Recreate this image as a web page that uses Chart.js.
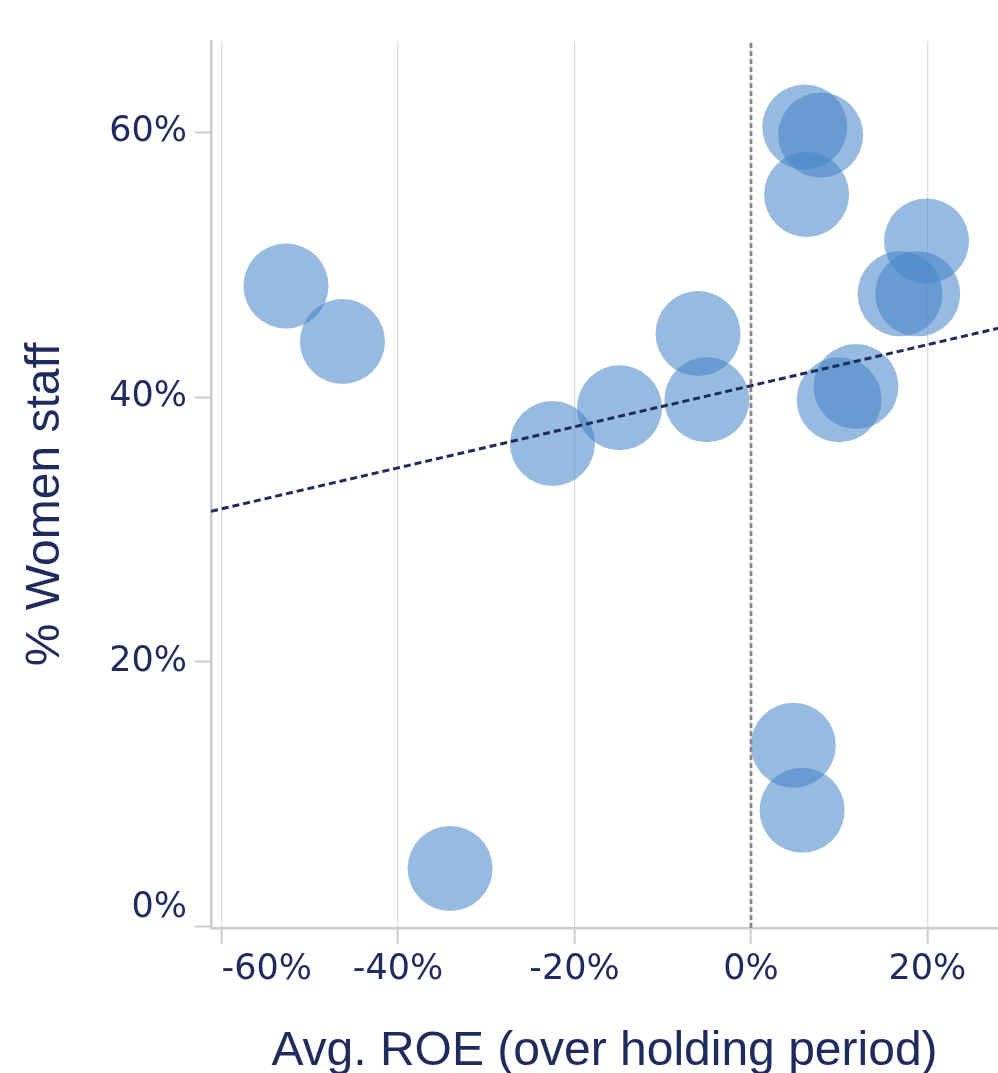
<!DOCTYPE html>
<html>
<head>
<meta charset="utf-8">
<script src="https://cdn.jsdelivr.net/npm/chart.js@4.4.1/dist/chart.umd.min.js"></script>
<style>
    html, body { margin: 0; padding: 0; background: #fff; overflow: hidden; }
    #wrap { width: 998px; height: 1090px; position: relative; }
</style>
</head>
<body>
<div id="wrap"><canvas id="roe_chart"></canvas></div>
<script>
// values
const roe = [-52.7, -46.3, -34.1, -22.5, -14.9, -6.0, -5.0, 6.1, 7.9, 6.3, 19.9, 16.9, 18.9, 11.9, 10.0, 4.8, 5.8];
const womenStaff = [48.4, 44.2, 4.4, 36.5, 39.2, 44.8, 39.8, 60.4, 59.8, 55.3, 51.8, 47.8, 47.8, 40.8, 39.8, 13.7, 8.8];
const xTickValues = [-60, -40, -20, 0, 20];
const yTickValues = [0, 20, 40, 60];
const xMin = -61.2, xMax = 28.0;
const yMin = -0.1, yMax = 66.9;

const navy = '#1f2a5e';
const bubbleFill = 'rgba(67, 132, 200, 0.56)';

// least squares trend line
const n = roe.length;
const meanX = roe.reduce((a, b) => a + b, 0) / n;
const meanY = womenStaff.reduce((a, b) => a + b, 0) / n;
let sxy = 0, sxx = 0;
roe.forEach((x, i) => {
    sxy += (x - meanX) * (womenStaff[i] - meanY);
    sxx += (x - meanX) * (x - meanX);
});
const slope = sxy / sxx;
const intercept = meanY - slope * meanX;

const points = roe.map((x, i) => ({ x: x, y: womenStaff[i] }));
const trend = [xMin, xMax].map(x => ({ x: x, y: intercept + slope * x }));
const zeroRule = [{ x: 0, y: yMin }, { x: 0, y: yMax }];

const tickFont = { family: 'DejaVu Sans', size: 35, lineHeight: 1.05 };
const titleFont = { family: 'Liberation Sans', size: 48, lineHeight: 1.2 };

const ctx = document.getElementById('roe_chart').getContext('2d');
new Chart(ctx, {
    type: 'scatter',
    data: {
        datasets: [
            {
                type: 'line',
                data: trend,
                borderColor: navy,
                borderWidth: 3,
                borderDash: [7, 4],
                pointRadius: 0,
                order: 0
            },
            {
                type: 'line',
                data: zeroRule,
                borderColor: '#888888',
                borderWidth: 2.8,
                borderDash: [5, 3],
                pointRadius: 0,
                order: 1
            },
            {
                data: points,
                backgroundColor: bubbleFill,
                borderWidth: 0,
                pointRadius: 42.5,
                pointHoverRadius: 42.5,
                clip: false,
                order: 2
            }
        ]
    },
    options: {
        responsive: true,
        maintainAspectRatio: false,
        animation: false,
        events: [],
        layout: { autoPadding: false, padding: { top: 41, left: 0, right: 0, bottom: 0 } },
        plugins: {
            legend: { display: false },
            tooltip: { enabled: false }
        },
        scales: {
            x: {
                type: 'linear',
                min: xMin,
                max: xMax,
                afterBuildTicks: s => {
                    // one spare tick past the edge so that 'inner' only flushes the first label
                    s.ticks = xTickValues.concat([40]).map(v => ({ value: v }));
                },
                afterFit: s => {
                    s.height = 162;
                    s.paddingLeft = 0;
                    s.paddingRight = 0;
                },
                ticks: {
                    autoSkip: false,
                    maxRotation: 0,
                    align: 'inner',
                    padding: 8,
                    color: navy,
                    font: tickFont,
                    callback: v => (xTickValues.includes(v) ? v + '%' : '')
                },
                grid: {
                    color: '#dddddd',
                    lineWidth: 1.3,
                    tickColor: '#cccccc',
                    tickWidth: 2,
                    tickLength: 16
                },
                border: { color: '#cccccc', width: 2.5 },
                title: {
                    display: true,
                    text: 'Avg. ROE (over holding period)',
                    color: navy,
                    font: titleFont,
                    padding: { top: 0, bottom: 9 }
                }
            },
            y: {
                type: 'linear',
                min: yMin,
                max: yMax,
                afterBuildTicks: s => {
                    s.ticks = yTickValues.map(v => ({ value: v }));
                },
                afterFit: s => {
                    s.width = 211;
                    s.paddingTop = 0;
                    s.paddingBottom = 0;
                },
                ticks: {
                    autoSkip: false,
                    padding: 8,
                    color: navy,
                    font: tickFont,
                    // bottom label sits flush above the axis end
                    callback: v => (v === 0 ? ['0%', ''] : v + '%')
                },
                grid: {
                    drawOnChartArea: false,
                    tickColor: '#cccccc',
                    tickWidth: 2,
                    tickLength: 16
                },
                border: { color: '#cccccc', width: 2.5 },
                title: {
                    display: true,
                    text: '% Women staff   ',
                    color: navy,
                    font: titleFont,
                    padding: { top: 17, bottom: 0 }
                }
            }
        }
    }
});
</script>
</body>
</html>
